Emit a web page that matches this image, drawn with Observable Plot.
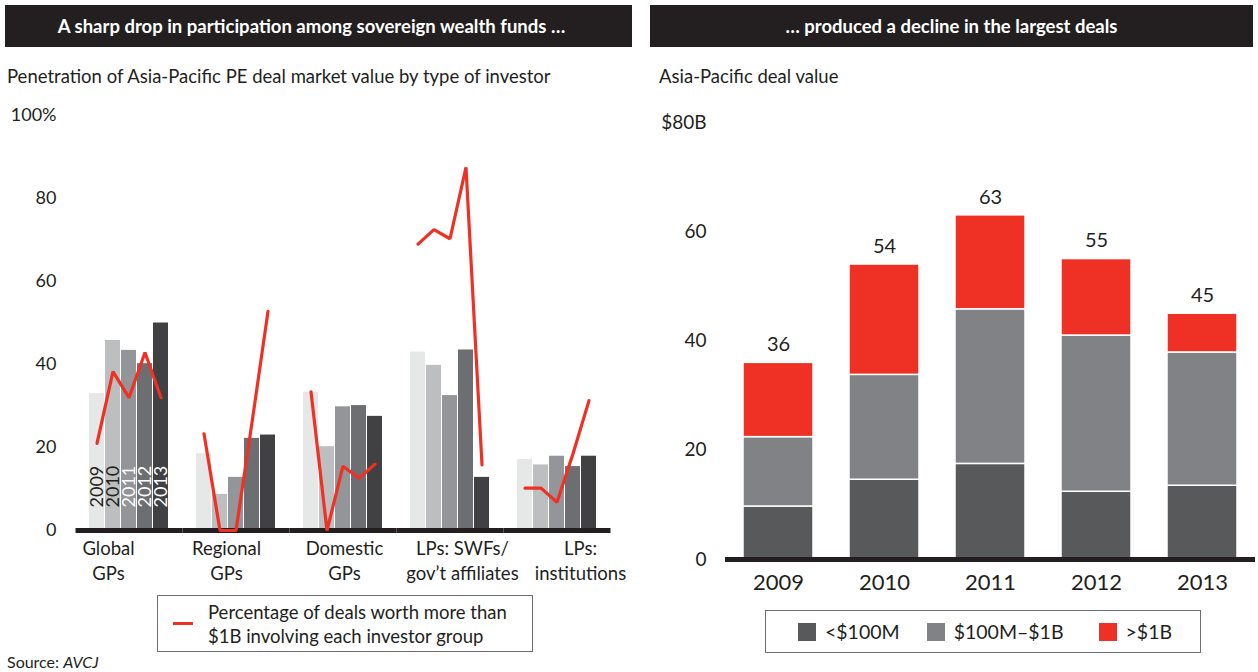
<!DOCTYPE html>
<html>
<head>
<meta charset="utf-8">
<script src="https://cdn.jsdelivr.net/npm/d3@7"></script>
<script src="https://cdn.jsdelivr.net/npm/@observablehq/plot@0.6"></script>
<style>
  body { margin: 0; background: #fff; font-family: Lato, "Open Sans", sans-serif; color: #231f20; }
  #page { position: relative; width: 1258px; height: 672px; overflow: hidden; }
  .hdr { position: absolute; top: 5px; height: 42px; background: #231f20; color: #fff; font-weight: bold; font-size: 18.5px; display: flex; align-items: center; justify-content: center; }
  .sub { position: absolute; font-size: 18.5px; }
  .plot { position: absolute; }
  .legend { position: absolute; border: 1px solid #6d6e71; box-sizing: border-box; font-size: 18.5px; }
</style>
</head>
<body>
<div id="page">
  <div class="hdr" style="left:5px;width:627px;padding-right:14px;box-sizing:border-box;">A sharp drop in participation among sovereign wealth funds …</div>
  <div class="hdr" style="left:650px;width:603px;">… produced a decline in the largest deals</div>
  <div class="sub" style="left:7px;top:65px;">Penetration of Asia-Pacific PE deal market value by type of investor</div>
  <div class="sub" style="left:659px;top:65px;">Asia-Pacific deal value</div>
  <div id="left" class="plot" style="left:0;top:101px;"></div>
  <div id="leftLabels" class="plot" style="left:0;top:537px;"></div>
  <div id="right" class="plot" style="left:650px;top:100px;"></div>
  <div class="legend" style="left:157px;top:595px;width:376px;height:57px;">
    <div style="position:absolute;left:15px;top:26px;width:20px;height:3px;background:#ee3124;"></div>
    <div style="position:absolute;left:50px;top:4px;line-height:24px;">Percentage of deals worth more than<br>$1B involving each investor group</div>
  </div>
  <div class="legend" id="rlegend" style="left:765px;top:610px;width:436px;height:43px;display:flex;align-items:center;padding-left:32px;"></div>
  <div style="position:absolute;left:7px;top:652px;font-size:16px;">Source: <i>AVCJ</i></div>
</div>
<script>
// ---------- Left chart data ----------
const groups = ["Global GPs", "Regional GPs", "Domestic GPs", "LPs: SWFs/ gov't affiliates", "LPs: institutions"];
const groupLabels = ["Global\nGPs", "Regional\nGPs", "Domestic\nGPs", "LPs: SWFs/\ngov’t affiliates", "LPs:\ninstitutions"];
const years = ["2009", "2010", "2011", "2012", "2013"];
const yearColors = ["#e6e7e7", "#bcbec0", "#939598", "#6d6e71", "#414042"];
const yearTextColors = ["#231f20", "#231f20", "#ffffff", "#ffffff", "#ffffff"];
// Penetration of deal market value (%), per group, 2009..2013
const penGlobal   = [33, 45.8, 43.4, 40.2, 50];
const penRegional = [18.5, 8.7, 12.8, 22.2, 23];
const penDomestic = [33.3, 20.2, 29.8, 30.1, 27.5];
const penSWF      = [43, 39.8, 32.5, 43.5, 12.8];
const penInst     = [17.1, 15.8, 17.9, 15.4, 17.9];
// Percentage of deals worth more than $1B involving each group
const bigGlobal   = [21, 38.3, 32, 42.9, 32];
const bigRegional = [23.3, 0, 0, 26, 52.8];
const bigDomestic = [33.4, 0, 15.5, 12.6, 16];
const bigSWF      = [69, 72.5, 70.3, 87.5, 15.8];
const bigInst     = [10.2, 10.2, 6.8, 18.5, 31.3];
const leftTicks = [0, 20, 40, 60, 80, 100];

// ---------- Right chart data ----------
const dealYears = ["2009", "2010", "2011", "2012", "2013"];
const sizeCats = ["<$100M", "$100M–$1B", ">$1B"];
const sizeColors = ["#58595b", "#808285", "#ee3124"];
const valSmall = [9.7, 14.6, 17.5, 12.4, 13.5];
const valMid   = [12.7, 19.2, 28.3, 28.6, 24.4];
const valLarge = [13.6, 20.2, 17.2, 14.0, 7.1];
const totalLabels = ["36", "54", "63", "55", "45"];
const rightTicks = [0, 20, 40, 60, 80];

// ---------- Build tables ----------
const pens = [penGlobal, penRegional, penDomestic, penSWF, penInst];
const bigs = [bigGlobal, bigRegional, bigDomestic, bigSWF, bigInst];
const rows = [];
groups.forEach((g, gi) => years.forEach((y, yi) => rows.push({
  group: g, label: groupLabels[gi], year: y, pen: pens[gi][yi], big: bigs[gi][yi],
  textColor: yearTextColors[yi]
})));

const ink = "#231f20";
const red = "#ee3124";

const left = Plot.plot({
  width: 640, height: 444,
  marginLeft: 87, marginRight: 40, marginTop: 14, marginBottom: 15,
  style: {fontFamily: "Lato, sans-serif", fontSize: "18px", color: ink, background: "transparent", overflow: "visible"},
  facet: {data: rows, x: "group"},
  fx: {domain: groups, paddingInner: 25 / 108, paddingOuter: 0, axis: null, label: null},
  x: {domain: years, paddingInner: 0.06, paddingOuter: 0, axis: null},
  y: {domain: [0, 100], ticks: leftTicks, tickFormat: d => d === 100 ? "100%" : d, tickSize: 0, tickPadding: 32, label: null},
  color: {domain: years, range: yearColors},
  marks: [
    Plot.barY(rows, {x: "year", y: "pen", fill: "year"}),
    Plot.text(rows, {filter: d => d.group === "Global GPs", x: "year", y: 0, text: "year", rotate: -90,
      textAnchor: "start", lineAnchor: "middle", dy: -23, fill: "textColor", fontSize: 18}),
    Plot.ruleY([0], {stroke: ink, strokeWidth: 5, insetLeft: -12.5, insetRight: -12.5}),
    Plot.lineY(rows, {x: "year", y: "big", stroke: red, strokeWidth: 3.2, strokeLinejoin: "miter"})
  ]
});
document.getElementById("left").appendChild(left);

// Category labels of the left chart (their own band scale, as in the original layout)
const leftLabels = Plot.plot({
  width: 640, height: 56,
  marginLeft: 49, marginRight: 1, marginTop: 0, marginBottom: 0,
  style: {fontFamily: "Lato, sans-serif", fontSize: "18.5px", color: ink, background: "transparent"},
  x: {type: "band", domain: groups, padding: 0, axis: null},
  marks: [
    Plot.text(groups, {x: d => d, text: (d, i) => groupLabels[i], frameAnchor: "top", lineAnchor: "top",
      lineHeight: 1.33, fill: ink, fontSize: 18.5})
  ]
});
document.getElementById("leftLabels").appendChild(leftLabels);

// ---------- Right chart ----------
const vals = [valSmall, valMid, valLarge];
const rows2 = [];
dealYears.forEach((y, yi) => sizeCats.forEach((c, ci) => rows2.push({year: y, cat: c, value: vals[ci][yi]})));
const totals = dealYears.map((y, yi) => ({year: y, total: d3.sum(vals, v => v[yi]), label: totalLabels[yi]}));

const right = Plot.plot({
  width: 608, height: 500,
  marginLeft: 75, marginRight: 3, marginTop: 22, marginBottom: 41,
  style: {fontFamily: "Lato, sans-serif", fontSize: "19px", color: ink, background: "transparent"},
  x: {domain: dealYears, paddingInner: 0.34, paddingOuter: 0.17, axis: null},
  y: {domain: [0, 80], ticks: rightTicks, tickFormat: d => d === 80 ? "$80B" : d, tickSize: 0, tickPadding: 19, label: null},
  color: {domain: sizeCats, range: sizeColors},
  marks: [
    Plot.barY(rows2, {x: "year", y: "value", fill: "cat", stroke: "white", strokeWidth: 1.5, order: sizeCats}),
    Plot.ruleY([0], {stroke: ink, strokeWidth: 5}),
    Plot.text(dealYears, {x: d => d, y: 0, text: d => d, dy: 23, fill: ink, fontSize: 22}),
    Plot.text(totals, {x: "year", y: "total", text: "label", dy: -18, fill: ink, fontSize: 20})
  ]
});
document.getElementById("right").appendChild(right);

// ---------- Right legend ----------
const leg = document.getElementById("rlegend");
const gaps = ["27px", "35px", "0"];
sizeCats.forEach((c, i) => {
  const item = document.createElement("div");
  item.style.cssText = "display:flex;align-items:center;font-size:19.5px;margin-right:" + gaps[i] + ";";
  item.innerHTML = `<span style="display:inline-block;width:18px;height:18px;background:${sizeColors[i]};margin-right:9px;"></span>${c}`;
  leg.appendChild(item);
});
</script>
</body>
</html>
